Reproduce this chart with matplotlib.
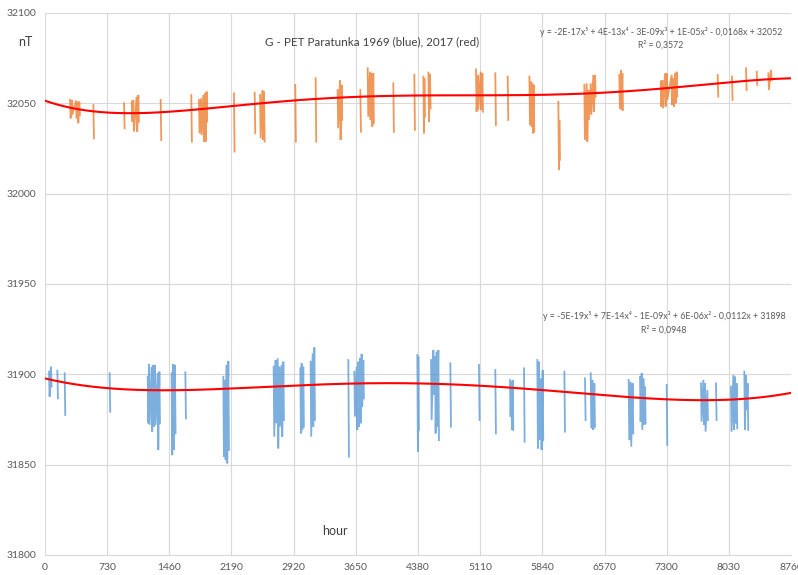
import numpy as np
import matplotlib
matplotlib.use("Agg")
import matplotlib.pyplot as plt

plt.rcParams['font.family'] = ['Lato', 'DejaVu Sans']

# ---------------- data ----------------
x_ticks = [0, 730, 1460, 2190, 2920, 3650, 4380, 5110, 5840, 6570, 7300, 8030, 8760]
y_ticks = [31800, 31850, 31900, 31950, 32000, 32050, 32100]

# 2017 (orange): spike hour, high, low, cluster id
o_hours = [294, 313, 364, 384, 403, 568, 928, 1018, 1037, 1076, 1096, 1358, 1718,
           1808, 1832, 1859, 1879, 1898, 2219, 2462, 2525, 2552, 2572, 2939, 3178,
           3436, 3464, 3483, 3703, 3789, 3816, 3836, 3855, 4090, 4337, 4443, 4455,
           4502, 4521, 5061, 5081, 5116, 5136, 5288, 5433, 5688, 5707, 5723, 5738,
           6028, 6040, 6333, 6361, 6380, 6408, 6439, 6459, 6744, 6764, 6780,
           7230, 7249, 7281, 7300, 7359, 7378, 7398, 7417, 7899, 8067, 8232, 8357,
           8494, 8525]
o_high = [32051.9, 32051.9, 32051.5, 32050.9, 32050.9, 32049.1, 32050.0, 32050.9,
          32051.9, 32053.7, 32054.6, 32051.9, 32054.6, 32051.9, 32052.8, 32054.6,
          32055.5, 32056.5, 32055.5, 32055.9, 32054.6, 32057.4, 32056.5, 32060.2,
          32063.9, 32057.4, 32062.9, 32060.2, 32057.4, 32069.4, 32067.5, 32066.6,
          32066.6, 32061.1, 32065.7, 32064.8, 32063.9, 32067.0, 32066.3, 32068.8,
          32065.7, 32067.5, 32066.6, 32066.6, 32064.8, 32064.8, 32062.0, 32061.1,
          32060.2, 32050.9, 32040.8, 32060.2, 32061.1, 32057.4, 32061.1, 32065.7,
          32065.7, 32065.7, 32068.5, 32066.6, 32062.0, 32062.9, 32066.6, 32066.6,
          32065.7, 32063.9, 32066.6, 32067.5, 32065.7, 32064.8, 32069.4, 32067.5,
          32066.6, 32068.5]
o_low = [32041.7, 32043.6, 32041.7, 32039.0, 32043.6, 32030.6, 32036.2, 32039.9,
         32034.3, 32034.3, 32039.9, 32029.7, 32028.8, 32033.4, 32032.5, 32028.8,
         32028.8, 32039.9, 32023.3, 32033.4, 32030.6, 32029.7, 32028.8, 32028.8,
         32028.8, 32036.2, 32029.7, 32040.8, 32034.3, 32042.6, 32040.8, 32037.1,
         32039.0, 32034.3, 32035.3, 32033.4, 32042.6, 32039.9, 32047.2, 32045.4,
         32046.3, 32046.3, 32045.4, 32038.0, 32040.8, 32038.0, 32037.1, 32033.4,
         32034.3, 32013.1, 32018.7, 32029.7, 32028.8, 32040.8, 32043.6, 32045.4,
         32053.7, 32047.2, 32046.3, 32046.3, 32048.2, 32047.2, 32048.2, 32051.9,
         32049.1, 32048.2, 32050.0, 32053.7, 32053.7, 32051.9, 32057.4, 32060.2,
         32057.4, 32062.9]
o_group = [1, 1, 1, 1, 1, 2, 3, 4, 4, 4, 4, 5, 6, 7, 7, 7, 7, 7, 8, 9, 10, 10, 10,
           11, 12, 13, 13, 13, 14, 15, 15, 15, 15, 16, 17, 18, 18, 19, 19, 20, 20,
           20, 20, 21, 22, 23, 23, 23, 23, 24, 24, 25, 25, 25, 25, 25, 25, 26, 26,
           26, 27, 27, 27, 27, 27, 27, 27, 27, 28, 29, 30, 31, 32, 32]

# 1969 (blue): spike hour, high, low, cluster id
b_hours = [47, 70, 145, 231, 759, 1206, 1221, 1252, 1272, 1292, 1323, 1343, 1487,
           1507, 1526, 1648, 2094, 2114, 2133, 2153, 2685, 2708, 2732, 2752, 2779,
           2799, 2998, 3014, 3033, 3119, 3143, 3163, 3562, 3632, 3660, 3679, 3699,
           3718, 3738, 4372, 4384, 4533, 4560, 4580, 4599, 4619, 4760, 5096, 5288,
           5460, 5476, 5492, 5625, 5781, 5801, 5824, 5844, 6099, 6341, 6408, 6431,
           6451, 6854, 6877, 6901, 6987, 7007, 7030, 7046, 7300, 7703, 7731, 7750,
           7778, 7879, 8055, 8083, 8102, 8122, 8212, 8232, 8251]
b_high = [31901.5, 31904.2, 31902.0, 31900.6, 31900.6, 31898.7, 31905.7, 31904.2,
          31905.2, 31905.2, 31900.6, 31901.5, 31900.6, 31905.7, 31905.2, 31901.1,
          31898.7, 31896.9, 31905.2, 31907.4, 31904.2, 31907.9, 31908.9, 31904.2,
          31905.2, 31907.0, 31903.3, 31906.1, 31904.2, 31907.0, 31911.6, 31914.9,
          31907.9, 31901.5, 31904.2, 31907.0, 31908.9, 31911.3, 31907.9, 31910.7,
          31909.8, 31907.9, 31913.5, 31909.8, 31912.5, 31913.5, 31906.1, 31905.2,
          31902.4, 31896.9, 31895.9, 31896.9, 31903.3, 31907.9, 31907.0, 31897.8,
          31902.4, 31901.5, 31897.8, 31900.6, 31896.9, 31895.0, 31896.9, 31895.9,
          31895.0, 31898.7, 31900.6, 31897.8, 31893.2, 31894.1, 31895.0, 31896.9,
          31895.0, 31891.3, 31895.0, 31893.2, 31899.6, 31898.7, 31895.0, 31901.5,
          31899.6, 31895.0]
b_low = [31887.6, 31893.2, 31886.7, 31877.5, 31879.3, 31872.9, 31872.0, 31868.3,
         31871.0, 31872.0, 31858.1, 31872.9, 31855.3, 31858.1, 31867.3, 31875.6,
         31854.4, 31852.6, 31850.7, 31858.1, 31865.5, 31872.9, 31859.0, 31871.0,
         31865.5, 31874.7, 31867.3, 31869.2, 31871.0, 31865.5, 31871.0, 31874.7,
         31854.4, 31876.6, 31869.2, 31871.0, 31872.9, 31882.1, 31886.7, 31857.2,
         31869.2, 31874.7, 31888.6, 31867.3, 31871.0, 31863.6, 31871.0, 31874.7,
         31867.3, 31876.6, 31869.2, 31869.2, 31862.7, 31859.0, 31863.6, 31858.1,
         31863.6, 31868.3, 31874.7, 31870.1, 31869.2, 31871.0, 31863.6, 31860.0,
         31867.3, 31873.8, 31869.2, 31872.0, 31872.9, 31860.9, 31873.8, 31872.0,
         31868.3, 31874.7, 31874.7, 31868.3, 31869.2, 31872.9, 31870.1, 31869.2,
         31880.3, 31869.2]
b_group = [1, 1, 2, 3, 4, 5, 5, 5, 5, 5, 5, 5, 6, 6, 6, 7, 8, 8, 8, 8, 9, 9, 9, 9,
           9, 9, 10, 10, 10, 11, 11, 11, 12, 13, 13, 13, 13, 13, 13, 14, 14, 16,
           16, 16, 16, 16, 17, 18, 19, 20, 20, 20, 21, 22, 22, 22, 22, 23, 24, 25,
           25, 25, 26, 26, 26, 27, 27, 27, 27, 28, 29, 29, 29, 29, 30, 31, 31, 31,
           31, 32, 32, 32]

# polynomial trend lines, values read at the x ticks
o_trend = [32051.5, 32044.8, 32045.4, 32048.5, 32051.5, 32053.7, 32054.3, 32054.3,
           32054.6, 32056.3, 32058.3, 32061.5, 32063.9]
b_trend = [31897.8, 31892.2, 31891.3, 31892.2, 31893.7, 31895.0, 31895.0, 31893.5,
           31891.3, 31888.6, 31886.2, 31885.8, 31889.8]

title = "G - PET Paratunka 1969 (blue), 2017 (red)"
eq_2017 = "y = -2E-17x\u2075 + 4E-13x\u2074 - 3E-09x\u00b3 + 1E-05x\u00b2 - 0,0168x + 32052"
r2_2017 = "R\u00b2 = 0,3572"
eq_1969 = "y = -5E-19x\u2075 + 7E-14x\u2074 - 1E-09x\u00b3 + 6E-06x\u00b2 - 0,0112x + 31898"
r2_1969 = "R\u00b2 = 0,0948"


def build_path(hours, high, low, group):
    xs, ys = [], []
    prev = None
    for h, hi, lo, g in zip(hours, high, low, group):
        if prev is not None and g != prev:
            xs.append(np.nan)
            ys.append(np.nan)
        xs += [h, h + 7]
        ys += [hi, lo]
        prev = g
    return np.array(xs, float), np.array(ys, float)


fig = plt.figure(figsize=(7.98, 5.75), dpi=100)
ax = fig.add_axes([45 / 798, 20 / 575, 746 / 798, 542 / 575])

ax.set_xlim(0, 8760)
ax.set_ylim(31800, 32100)
ax.set_xticks(x_ticks)
ax.set_yticks(y_ticks)
ax.grid(True, color='#D9D9D9', linewidth=0.8)
ax.set_axisbelow(True)
for s in ['top', 'right', 'left']:
    ax.spines[s].set_visible(False)
ax.spines['bottom'].set_color('#D9D9D9')
ax.spines['bottom'].set_linewidth(0.8)
ax.tick_params(length=0, labelsize=7.5, labelcolor='#595959', pad=6)

xb, yb = build_path(b_hours, b_high, b_low, b_group)
ax.plot(xb, yb, color='#5B9BD5', linewidth=1.3, alpha=0.8, solid_joinstyle='miter')
xo, yo = build_path(o_hours, o_high, o_low, o_group)
ax.plot(xo, yo, color='#ED7D31', linewidth=1.3, alpha=0.8, solid_joinstyle='miter')

xx = np.linspace(0, 8760, 400)
for tr in (o_trend, b_trend):
    c = np.polyfit(np.array(x_ticks) / 8760.0, tr, 5)
    ax.plot(xx, np.polyval(c, xx / 8760.0), color='#FF0000', linewidth=1.5)

fig.text(25 / 798, 1 - 42 / 575, "nT", fontsize=9, color='#404040', ha='center', va='center')
fig.text(372 / 798, 1 - 42 / 575, title, fontsize=8.4, color='#404040', ha='center', va='center')
fig.text(335 / 798, 1 - 531 / 575, "hour", fontsize=9, color='#404040', ha='center', va='center')
fig.text(661 / 798, 1 - 32 / 575, eq_2017, fontsize=6.3, color='#595959', ha='center', va='center')
fig.text(661 / 798, 1 - 45 / 575, r2_2017, fontsize=6.3, color='#595959', ha='center', va='center')
fig.text(664 / 798, 1 - 316 / 575, eq_1969, fontsize=6.3, color='#595959', ha='center', va='center')
fig.text(664 / 798, 1 - 330 / 575, r2_1969, fontsize=6.3, color='#595959', ha='center', va='center')

fig.savefig("out.png", dpi=100)
